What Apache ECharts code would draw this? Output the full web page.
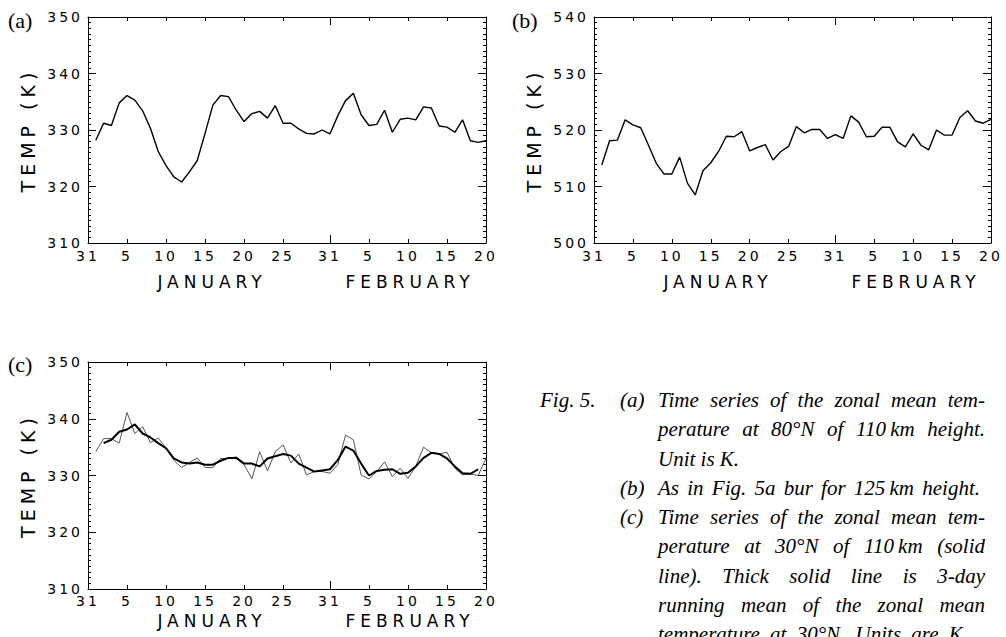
<!DOCTYPE html>
<html><head><meta charset="utf-8">
<script src="https://cdn.jsdelivr.net/npm/echarts@6/dist/echarts.min.js"></script>
<style>
html,body{margin:0;padding:0;background:#fff;}
#chart{width:1006px;height:637px;}
#chart text[style*="tickfont"]{letter-spacing:3px;}
#chart text[style*="monthfont"]{letter-spacing:5px;}
#chart text[style*="namefont"]{letter-spacing:5px;}
</style></head><body><div id="chart"></div>
<script>
// ---- data ----
const days = [1,2,3,4,5,6,7,8,9,10,11,12,13,14,15,16,17,18,19,20,21,22,23,24,25,26,27,28,29,30,31,
              32,33,34,35,36,37,38,39,40,41,42,43,44,45,46,47,48,49,50,51];
const dayTicks = [0,5,10,15,20,25,31,36,41,46,51];
const dayTickLabels = ['31','5','10','15','20','25','31','5','10','15','20'];
const monthStartTicks = [31];
const monthNames = ['JANUARY','FEBRUARY'];
const panelLabels = ['(a)','(b)','(c)'];
const yAxisTitle = 'TEMP (K)';
const yRangeA = [310, 350];
const yRangeB = [500, 540];
const yRangeC = [310, 350];

const temp80N110km = [328.2,331.2,330.8,334.8,336.1,335.3,333.4,330.3,326.2,323.7,
  321.7,320.8,322.6,324.6,329.4,334.4,336.1,335.9,333.5,331.5,
  332.9,333.3,332.1,334.3,331.2,331.2,330.2,329.4,329.3,330.0,
  329.3,332.5,335.2,336.5,332.7,330.8,331.0,333.5,329.6,331.9,
  332.1,331.8,334.1,333.9,330.7,330.5,329.6,331.8,328.1,327.8,328.1];
const temp80N125km = [513.8,518.1,518.2,521.8,520.9,520.4,517.3,514.1,512.2,512.2,
  515.2,510.6,508.5,512.8,514.2,516.2,518.9,518.8,519.7,516.3,
  516.9,517.4,514.7,516.2,517.1,520.6,519.5,520.1,520.1,518.5,
  519.2,518.5,522.5,521.4,518.8,518.9,520.5,520.5,517.9,517.0,
  519.3,517.3,516.5,520.0,519.1,519.1,522.2,523.4,521.6,521.2,521.9];
const temp30N110km = [334.2,336.5,336.5,335.7,341.1,337.4,338.6,335.8,336.6,334.8,
  332.7,331.4,332.3,333.1,331.4,331.4,333.0,333.0,333.3,331.9,
  329.4,334.2,330.8,334.2,335.4,332.2,333.8,330.1,330.7,330.7,
  330.4,331.9,337.1,336.3,330.1,329.4,330.7,332.4,329.8,331.3,
  329.5,331.6,335.0,334.0,333.8,334.1,331.3,330.1,330.3,330.0,333.0];
const temp30N110kmMean3 = [null,335.7,336.3,337.7,338.1,339.0,337.4,336.7,335.7,334.8,
  333.0,332.3,332.1,332.3,331.9,331.9,332.6,333.1,333.1,332.1,
  332.1,331.6,333.0,333.4,333.8,333.5,332.1,331.4,330.7,330.9,
  331.1,332.7,335.1,334.4,332.1,330.0,330.8,331.0,331.1,330.3,
  330.5,331.6,333.1,334.0,333.8,333.0,331.6,330.4,330.3,331.1,null];

const captionLabel = 'Fig. 5.';
const captionItems = ['(a)','(b)','(c)'];
const captionLines = [
  'Time series of the zonal mean tem-',
  'perature at 80°N of 110\u2009km height.',
  'Unit is K.',
  'As in Fig. 5a bur for 125\u2009km height.',
  'Time series of the zonal mean tem-',
  'perature at 30°N of 110\u2009km (solid',
  'line). Thick solid line is 3-day',
  'running mean of the zonal mean',
  'temperature at 30°N. Units are K.'
];

// ---- layout / style ----
const TICK_FONT = "'DejaVu Sans', tickfont";
const NAME_FONT = "'DejaVu Sans', namefont";
const grids = [
  {left: 88, top: 17, width: 398, height: 226},
  {left: 594, top: 17, width: 397, height: 226},
  {left: 88, top: 362, width: 398, height: 227}
];
const labelMargins = [6, 6, 5];
const black = '#000';

function xAxesFor(g) {
  const base = {gridIndex: g, type: 'value', min: 0, max: 51, splitLine: {show: false}};
  const ls = {color: black, width: 1};
  return [
    Object.assign({}, base, {position: 'bottom',
      axisLine: {show: true, onZero: false, lineStyle: ls},
      axisTick: {show: true, inside: true, length: 4, customValues: dayTicks, lineStyle: ls},
      axisLabel: {show: true, customValues: dayTicks, margin: labelMargins[g], color: black, fontSize: 14, fontFamily: TICK_FONT,
        formatter: function (v) { const i = dayTicks.indexOf(Math.round(v)); return i >= 0 ? dayTickLabels[i] : ''; }}}),
    Object.assign({}, base, {position: 'top',
      axisLine: {show: true, onZero: false, lineStyle: ls},
      axisTick: {show: true, inside: true, length: 4, customValues: dayTicks, lineStyle: ls},
      axisLabel: {show: false}}),
    Object.assign({}, base, {position: 'bottom',
      axisLine: {show: false, onZero: false},
      axisTick: {show: true, inside: true, length: 8, customValues: monthStartTicks, lineStyle: ls},
      axisLabel: {show: false}}),
    Object.assign({}, base, {position: 'top',
      axisLine: {show: false, onZero: false},
      axisTick: {show: true, inside: true, length: 8, customValues: monthStartTicks, lineStyle: ls},
      axisLabel: {show: false}})
  ];
}
function yAxesFor(g, range) {
  const ls = {color: black, width: 1};
  const common = {gridIndex: g, type: 'value', min: range[0], max: range[1], interval: 10,
    splitLine: {show: false},
    axisLine: {show: true, onZero: false, lineStyle: ls},
    axisTick: {show: true, inside: true, length: 8, lineStyle: ls},
    minorTick: {show: true, splitNumber: 10, length: 3, lineStyle: ls}};
  return [
    Object.assign({}, common, {position: 'left',
      axisLabel: {show: true, margin: 5, color: black, fontSize: 14, fontFamily: TICK_FONT},
      name: yAxisTitle, nameLocation: 'middle', nameRotate: 90, nameGap: 51,
      nameTextStyle: {color: black, fontSize: 19, fontFamily: NAME_FONT}}),
    Object.assign({}, common, {position: 'right', axisLabel: {show: false}})
  ];
}
function pair(xs, ys) { return xs.map(function (x, i) { return [x, ys[i]]; }); }

function txt(text, x, y, font, align) {
  align = align || 'left';
  return {type: 'text', x: x, y: y, silent: true, z: 10,
    style: {text: text, font: font, fill: black, textAlign: align, textVerticalAlign: 'middle', align: align, verticalAlign: 'middle'}};
}

const graphics = [];
// panel labels
const PANEL_FONT = '22px "Liberation Serif"';
graphics.push(txt(panelLabels[0], 8, 20, PANEL_FONT));
graphics.push(txt(panelLabels[1], 512, 20, PANEL_FONT));
graphics.push(txt(panelLabels[2], 8, 364, PANEL_FONT));
// month names
const MONTH_FONT = "17px 'DejaVu Sans', monthfont";
[[0, 282], [506, 282], [0, 621]].forEach(function (p) {
  graphics.push(txt(monthNames[0], 212 + p[0], p[1], MONTH_FONT, 'center'));
  graphics.push(txt(monthNames[1], 410 + p[0], p[1], MONTH_FONT, 'center'));
});
// caption
const CAP_FONT = 'italic 21px "Liberation Serif"';
const mctx = document.createElement('canvas').getContext('2d');
mctx.font = CAP_FONT;
function capY(i) { return 400 + i * 29.25; }
function justified(text, x0, x1, y) {
  const words = text.split(' ');
  const widths = words.map(function (w) { return mctx.measureText(w).width; });
  const total = widths.reduce(function (a, b) { return a + b; }, 0);
  const gap = words.length > 1 ? (x1 - x0 - total) / (words.length - 1) : 0;
  let x = x0;
  words.forEach(function (w, i) {
    graphics.push(txt(w, x, y, CAP_FONT));
    x += widths[i] + gap;
  });
}
graphics.push(txt(captionLabel, 540, capY(0), CAP_FONT));
graphics.push(txt(captionItems[0], 620, capY(0), CAP_FONT));
graphics.push(txt(captionItems[1], 620, capY(3), CAP_FONT));
graphics.push(txt(captionItems[2], 620, capY(4), CAP_FONT));
const rightEdges = [985, 985, null, 980, 985, 985, 985, 985, 968];
captionLines.forEach(function (line, i) {
  if (rightEdges[i] == null) graphics.push(txt(line, 658, capY(i), CAP_FONT));
  else justified(line, 658, rightEdges[i], capY(i));
});

const option = {
  animation: false,
  backgroundColor: '#fff',
  grid: grids,
  xAxis: [].concat(xAxesFor(0), xAxesFor(1), xAxesFor(2)),
  yAxis: [].concat(yAxesFor(0, yRangeA), yAxesFor(1, yRangeB), yAxesFor(2, yRangeC)),
  series: [
    {type: 'line', xAxisIndex: 0, yAxisIndex: 0, data: pair(days, temp80N110km), symbol: 'none', silent: true,
      lineStyle: {color: black, width: 1.4}},
    {type: 'line', xAxisIndex: 4, yAxisIndex: 2, data: pair(days, temp80N125km), symbol: 'none', silent: true,
      lineStyle: {color: black, width: 1.4}},
    {type: 'line', xAxisIndex: 8, yAxisIndex: 4, data: pair(days, temp30N110km), symbol: 'none', silent: true,
      lineStyle: {color: '#555', width: 1}},
    {type: 'line', xAxisIndex: 8, yAxisIndex: 4, data: pair(days, temp30N110kmMean3), symbol: 'none', silent: true,
      lineStyle: {color: black, width: 2}}
  ],
  graphic: graphics
};
const chart = echarts.init(document.getElementById('chart'), null, {renderer: 'svg', width: 1006, height: 637});
chart.setOption(option);
</script></body></html>
